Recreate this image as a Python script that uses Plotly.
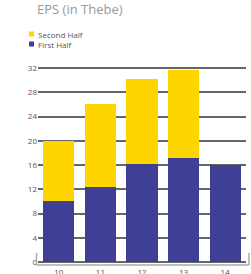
import plotly.graph_objects as go

years = ["10", "11", "12", "13", "14"]
first_half = [10.0, 12.4, 16.2, 17.2, 16.0]
second_half = [10.0, 13.7, 14.0, 14.5, 0.0]
y_ticks = [0, 4, 8, 12, 16, 20, 24, 28, 32]
series_names = ["Second Half", "First Half"]
series_colors = ["#FFD500", "#3F3F95"]

fig = go.Figure()
fig.add_trace(go.Bar(x=years, y=first_half, name=series_names[1],
                     marker=dict(color=series_colors[1], line=dict(width=0))))
fig.add_trace(go.Bar(x=years, y=second_half, name=series_names[0],
                     marker=dict(color=series_colors[0], line=dict(width=0))))

fig.update_layout(
    width=251, height=274,
    margin=dict(l=38, r=5, t=60, b=10, autoexpand=False),
    barmode="stack", bargap=0.25,
    plot_bgcolor="white", paper_bgcolor="white",
    font=dict(family="Open Sans", size=9, color="#555"),
    title=dict(text="EPS (in Thebe)", x=37/251, xanchor="left", y=1 - 9/274, yanchor="middle",
               font=dict(size=13, color="#999")),
    showlegend=False,
    hovermode=False,
)
fig.update_yaxes(range=[-0.33, 33.33], tickvals=y_ticks, showgrid=True, gridcolor="#666", gridwidth=1.8,
                 zeroline=False, showline=False, ticks="", tickfont=dict(size=8, color="#555"),
                 automargin=False)
fig.update_xaxes(showgrid=False, showline=False, ticks="", tickfont=dict(size=8, color="#555"),
                 automargin=False, ticklabelstandoff=2)

# legend (squares + text)
rows_y = [(31.5, 36.5), (41.5, 46.5)]
for name, col, (ya, yb) in zip(series_names, series_colors, rows_y):
    fig.add_shape(type="rect", xref="paper", yref="paper",
                  x0=(29 - 38) / 208, x1=(34 - 38) / 208,
                  y0=(264 - yb) / 204, y1=(264 - ya) / 204,
                  fillcolor=col, line=dict(width=0))
    fig.add_annotation(xref="paper", yref="paper", x=(35.5 - 38) / 208, y=(264 - (ya + yb) / 2) / 204,
                       text=name, showarrow=False, xanchor="left", yanchor="middle",
                       font=dict(size=8, color="#555"))

line = dict(color="#aaa", width=1.5)
x0 = (36.5 - 38) / 208
x1 = (249 - 38) / 208
yb = (264 - 265) / 204
yt = (264 - 253) / 204
fig.add_shape(type="line", xref="paper", yref="paper", x0=x0, x1=x1, y0=yb, y1=yb, line=line)
fig.add_shape(type="line", xref="paper", yref="paper", x0=x0, x1=x0, y0=yb, y1=yt, line=line)
fig.add_shape(type="line", xref="paper", yref="paper", x0=x1, x1=x1, y0=yb, y1=yt, line=line)

fig.write_html("out.html", config={"displayModeBar": False},
               post_script="document.body.style.margin='0';")
